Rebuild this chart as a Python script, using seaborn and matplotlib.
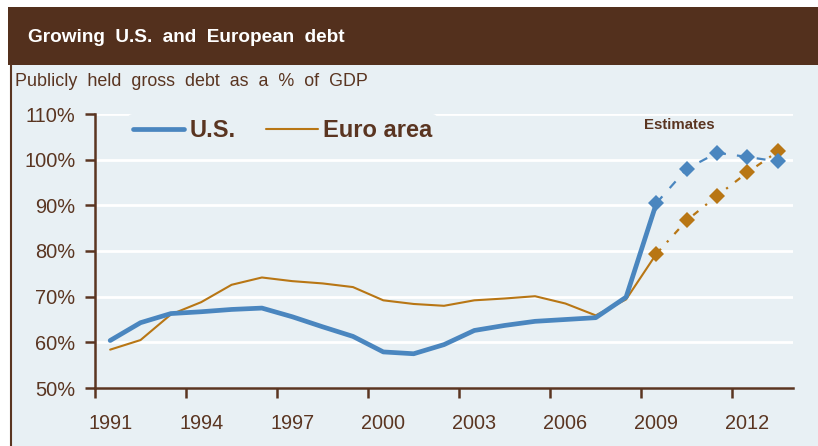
import matplotlib
matplotlib.use("Agg")
import matplotlib.pyplot as plt
from matplotlib.patches import Rectangle
from matplotlib.lines import Line2D
import seaborn as sns
import numpy as np
import pandas as pd

# Data: publicly held gross debt, % of GDP
years = list(range(1991, 2014))
us_debt = [60.4, 64.3, 66.3, 66.7, 67.2, 67.5, 65.6, 63.4, 61.3, 57.9, 57.5, 59.5,
           62.6, 63.7, 64.6, 65.0, 65.4, 69.9, 90.5, 98.0, 101.5, 100.6, 99.6]
euro_debt = [58.4, 60.5, 66.1, 68.8, 72.6, 74.2, 73.4, 72.9, 72.1, 69.2, 68.4, 68.0,
             69.2, 69.6, 70.1, 68.5, 65.9, 69.4, 79.4, 86.7, 92.1, 97.2, 101.8]
first_estimate_year = 2009
series_names = ["U.S.", "Euro area"]
y_ticks = [50, 60, 70, 80, 90, 100, 110]
x_label_years = [1991, 1994, 1997, 2000, 2003, 2006, 2009, 2012]

BLUE = "#4a86bf"
GOLD = "#b87614"
BROWN = "#5a3521"
TITLE_BG = "#53301d"
BG = "#e8f0f4"

sns.set_theme(style="white")
plt.rcParams["font.family"] = ["Liberation Sans", "DejaVu Sans"]

W, H = 818, 446
fig = plt.figure(figsize=(W / 100, H / 100), dpi=100)
fig.patch.set_facecolor("white")

def fx(px):
    return px / W

def fy(py):
    return 1 - py / H

# panel background, title band and left rule (behind the axes)
fig.patches.append(Rectangle((fx(10), 0), 1 - fx(10), fy(65), transform=fig.transFigure,
                             facecolor=BG, edgecolor="none", zorder=-10))
fig.patches.append(Rectangle((fx(8), fy(65)), 1 - fx(8), fy(7) - fy(65), transform=fig.transFigure,
                             facecolor=TITLE_BG, edgecolor="none", zorder=-10))
fig.add_artist(Line2D([fx(10.5), fx(10.5)], [0, fy(65)], transform=fig.transFigure,
                      color=BROWN, linewidth=1.5, zorder=-5))

fig.text(fx(28), fy(37), "Growing  U.S.  and  European  debt", color="white",
         fontsize=13.7, fontweight="bold", va="center", ha="left")
fig.text(fx(15), fy(82), "Publicly  held  gross  debt  as  a  %  of  GDP", color=BROWN,
         fontsize=12.9, va="center", ha="left")

ax = fig.add_axes([fx(95), fy(388), fx(793) - fx(95), fy(114) - fy(388)])
ax.set_facecolor(BG)

df = pd.DataFrame({"year": years, "U.S.": us_debt, "Euro area": euro_debt})
df["pos"] = np.arange(len(years))
hist = df[df["year"] <= first_estimate_year]
est = df[df["year"] >= first_estimate_year]

# actuals: solid lines
sns.lineplot(data=hist, x="pos", y="U.S.", ax=ax, color=BLUE, linewidth=3.4, zorder=4)
sns.lineplot(data=hist, x="pos", y="Euro area", ax=ax, color=GOLD, linewidth=1.5, zorder=3)

# estimates: broken lines with diamond markers
sns.lineplot(data=est, x="pos", y="U.S.", ax=ax, color=BLUE, linewidth=1.6,
             linestyle=(0, (4, 5)), marker="D", markersize=8.5, markeredgewidth=0, zorder=4)
sns.lineplot(data=est, x="pos", y="Euro area", ax=ax, color=GOLD, linewidth=1.6,
             linestyle=(0, (3, 4, 1, 4)), marker="D", markersize=8.5, markeredgewidth=0, zorder=3)

ax.set_xlim(-0.5, len(years) - 0.5)
ax.set_ylim(50, 110)

# y axis
ax.set_yticks(y_ticks)
ax.set_yticklabels([f"{v}%" for v in y_ticks])
ax.yaxis.grid(True, color="white", linewidth=2)
ax.set_axisbelow(True)

# x axis: ticks on category boundaries, labels on category centres
label_pos = [years.index(y) for y in x_label_years]
ax.set_xticks([p - 0.5 for p in label_pos])
ax.set_xticklabels([])
ax.set_xticks(label_pos, minor=True)
ax.set_xticklabels([str(y) for y in x_label_years], minor=True)
ax.tick_params(axis="x", which="major", direction="out", length=7, width=1.8,
               color=BROWN, bottom=True)
ax.tick_params(axis="x", which="minor", length=0, pad=19, labelsize=14.3,
               labelcolor=BROWN, bottom=True)
ax.tick_params(axis="y", direction="out", length=7, width=1.8, color=BROWN,
               left=True, pad=7, labelsize=14.4, labelcolor=BROWN)

for side in ["top", "right"]:
    ax.spines[side].set_visible(False)
for side in ["left", "bottom"]:
    ax.spines[side].set_color(BROWN)
    ax.spines[side].set_linewidth(1.8)

ax.set_xlabel("")
ax.set_ylabel("")

handles = [Line2D([], [], color=BLUE, linewidth=3.4),
           Line2D([], [], color=GOLD, linewidth=1.5)]
leg = ax.legend(handles, series_names, loc="center left", bbox_to_anchor=(0.047, 0.94),
                ncol=2, frameon=True, facecolor=BG, edgecolor="none", framealpha=1,
                prop={"size": 17, "weight": "bold"}, handlelength=2.2, handletextpad=0.2,
                columnspacing=1.3, borderpad=0.2, borderaxespad=0)
for t in leg.get_texts():
    t.set_color(BROWN)

ax.text(18.77, 107.7, "Estimates", color=BROWN, fontsize=10.8, fontweight="bold",
        ha="center", va="center")

fig.savefig("out.png", dpi=100, facecolor=fig.get_facecolor())
